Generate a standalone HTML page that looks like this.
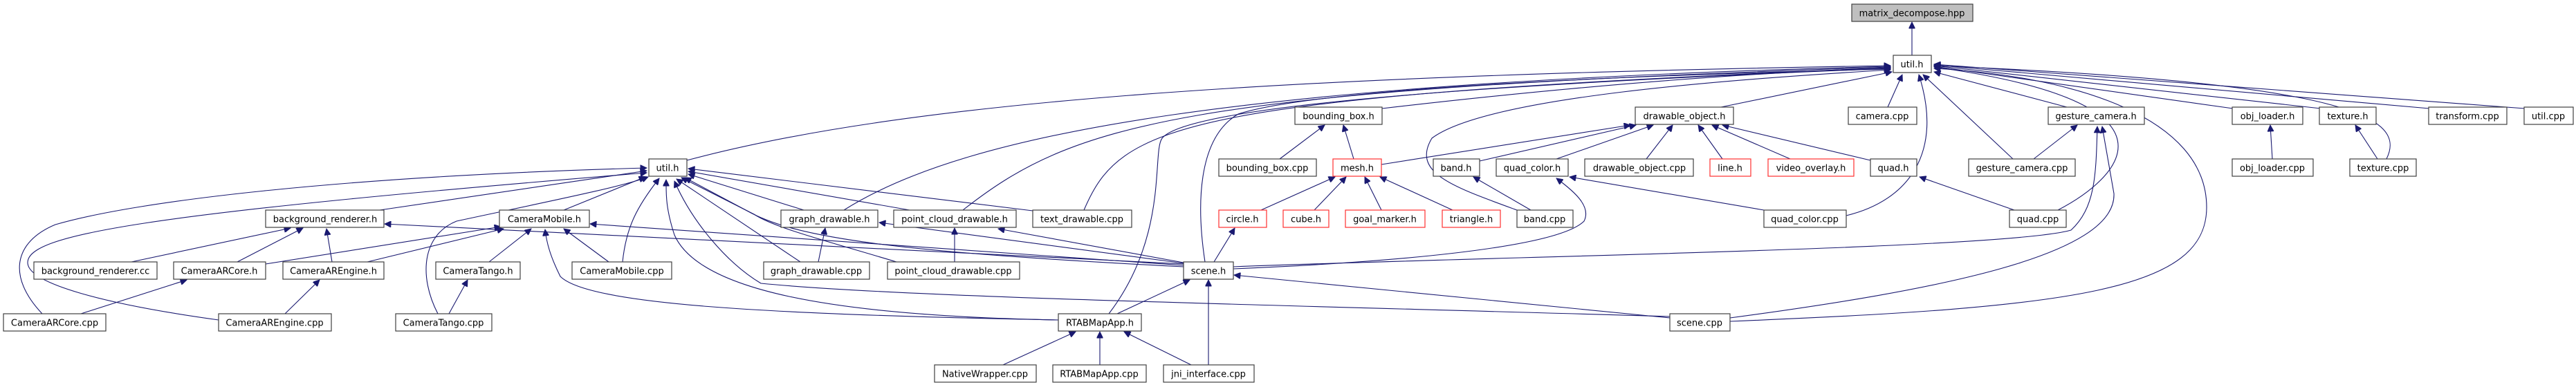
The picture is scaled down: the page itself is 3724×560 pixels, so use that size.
<!DOCTYPE html>
<html><head><meta charset="utf-8"><style>
html,body{margin:0;padding:0;background:#fff;width:3724px;height:560px;overflow:hidden}
svg text{font-family:"DejaVu Sans","Liberation Sans",sans-serif;font-size:13px;fill:#000;text-anchor:middle}
.e{fill:none;stroke:#191970;stroke-width:1.1}
.n{fill:#fff;stroke:#404040;stroke-width:1.2}
.r{fill:#fff;stroke:#ff3030;stroke-width:1.2}
</style></head><body>
<svg width="3724" height="560" viewBox="0 0 3724 560" xmlns="http://www.w3.org/2000/svg">
<defs><marker id="a" viewBox="0 0 10 10" refX="10" refY="5" markerWidth="11" markerHeight="9" markerUnits="userSpaceOnUse" orient="auto"><path d="M0,0 L10,5 L0,10 z" fill="#191970" stroke="#191970"/></marker></defs>
<g class="e" marker-end="url(#a)">
<path d="M2764,80 L2764,32"/>
<path d="M993,232 C1300,150 1800,110 2733,95"/>
<path d="M1998,157 Q2400,110 2733,98"/>
<path d="M2488,155 L2735,104"/>
<path d="M2729,155 L2750,108"/>
<path d="M2988,155 L2796,104"/>
<path d="M2910,230 L2780,108"/>
<path d="M2669,312 C2760,290 2810,220 2774,108"/>
<path d="M2975,304 C3060,260 3180,150 2796,97"/>
<path d="M3228,157 L2796,96"/>
<path d="M3355,157 L2796,95"/>
<path d="M3512,157 L2796,94"/>
<path d="M3650,157 L2796,93"/>
<path d="M3450,230 C3480,170 3400,120 2796,95"/>
<path d="M2501,465 C3000,445 3190,420 3190,300 C3190,170 3000,110 2796,99"/>
<path d="M2501,460 C2800,420 3060,370 3056,280 L3039,183"/>
<path d="M1220,304 C1400,190 1800,120 2733,96"/>
<path d="M1392,304 C1550,180 1700,130 2733,97"/>
<path d="M1567,304 C1620,180 1700,140 2733,98"/>
<path d="M1603,454 C1690,340 1665,220 1680,200 C1720,150 2200,120 2733,99"/>
<path d="M1742,379 C1730,300 1730,200 1790,165 C1900,130 2300,110 2733,100"/>
<path d="M2193,304 C2100,270 2040,250 2070,200 C2150,140 2500,115 2733,101"/>
<path d="M815,304 L933,256"/>
<path d="M900,379 C905,330 920,300 953,258"/>
<path d="M1530,463 C1200,457 1010,420 975,340 C962,300 963,280 963,260"/>
<path d="M1157,379 L978,259"/>
<path d="M2414,458 C1800,440 1300,430 1100,410 C1050,380 1000,320 975,262"/>
<path d="M1296,379 C1200,350 1120,330 1090,310 L985,257"/>
<path d="M1162,304 L995,252"/>
<path d="M1315,304 L995,248"/>
<path d="M1493,305 L995,244"/>
<path d="M1711,386 C1300,365 1150,345 1080,305 L990,257"/>
<path d="M549,304 L935,247"/>
<path d="M61,454 C10,400 20,350 80,325 C200,290 500,255 935,243"/>
<path d="M316,463 C150,440 40,410 40,380 C40,340 200,310 935,250"/>
<path d="M633,454 C605,400 610,340 660,320 C800,290 900,270 937,256"/>
<path d="M1711,382 L556,324"/>
<path d="M1711,384 L853,324"/>
<path d="M1530,463 C1100,455 850,440 810,400 C795,370 790,350 788,332"/>
<path d="M384,382 L724,328"/>
<path d="M531,379 L728,331"/>
<path d="M707,379 L768,331"/>
<path d="M880,379 L815,331"/>
<path d="M190,379 L420,330"/>
<path d="M343,379 L438,330"/>
<path d="M480,379 L472,331"/>
<path d="M117,454 L270,405"/>
<path d="M412,454 L462,405"/>
<path d="M649,454 L676,405"/>
<path d="M1183,379 L1193,330"/>
<path d="M1711,381 L1271,322"/>
<path d="M1380,379 L1380,330"/>
<path d="M1711,380 L1443,331"/>
<path d="M1755,379 L1785,330"/>
<path d="M1615,454 L1720,405"/>
<path d="M1747,528 L1747,405"/>
<path d="M2414,460 L1784,398"/>
<path d="M1450,528 L1555,480"/>
<path d="M1590,528 L1590,480"/>
<path d="M1722,528 L1625,480"/>
<path d="M1823,304 L1930,256"/>
<path d="M1900,304 L1946,256"/>
<path d="M1997,304 L1973,256"/>
<path d="M2100,304 L1995,256"/>
<path d="M1957,230 L1942,181"/>
<path d="M1850,230 L1915,181"/>
<path d="M1997,238 L2357,181"/>
<path d="M2139,233 L2365,181"/>
<path d="M2250,230 L2390,181"/>
<path d="M2380,230 L2418,181"/>
<path d="M2490,230 L2455,181"/>
<path d="M2588,230 L2475,181"/>
<path d="M2704,232 L2490,181"/>
<path d="M2213,304 L2130,256"/>
<path d="M2550,304 L2269,256"/>
<path d="M1783,389 C2000,380 2250,360 2290,320 C2300,300 2280,280 2250,258"/>
<path d="M2912,304 L2775,256"/>
<path d="M2940,230 L3003,181"/>
<path d="M3285,230 L3282,181"/>
<path d="M3437,230 L3405,181"/>
<path d="M1783,386 C2200,370 2900,360 2994,333 C3030,300 3030,250 3032,183"/>
</g>
<g>
<rect x="2677" y="6" width="175" height="25" fill="#bfbfbf" stroke="#404040" stroke-width="1.2"/><text x="2764" y="23.5">matrix_decompose.hpp</text>
<rect class="n" x="2737" y="80" width="55" height="25"/><text x="2764" y="97.5">util.h</text>
<rect class="n" x="1872" y="155" width="126" height="25"/><text x="1935" y="172.5">bounding_box.h</text>
<rect class="n" x="2364" y="155" width="142" height="25"/><text x="2435" y="172.5">drawable_object.h</text>
<rect class="n" x="2672" y="155" width="99" height="25"/><text x="2721" y="172.5">camera.cpp</text>
<rect class="n" x="2961" y="155" width="139" height="25"/><text x="3030" y="172.5">gesture_camera.h</text>
<rect class="n" x="3227" y="155" width="102" height="25"/><text x="3278" y="172.5">obj_loader.h</text>
<rect class="n" x="3353" y="155" width="82" height="25"/><text x="3394" y="172.5">texture.h</text>
<rect class="n" x="3511" y="155" width="113" height="25"/><text x="3567" y="172.5">transform.cpp</text>
<rect class="n" x="3649" y="155" width="71" height="25"/><text x="3684" y="172.5">util.cpp</text>
<rect class="n" x="938" y="230" width="55" height="25"/><text x="965" y="247.5">util.h</text>
<rect class="n" x="1762" y="230" width="141" height="25"/><text x="1832" y="247.5">bounding_box.cpp</text>
<rect class="r" x="1927" y="230" width="70" height="25"/><text x="1962" y="247.5">mesh.h</text>
<rect class="n" x="2072" y="230" width="67" height="25"/><text x="2105" y="247.5">band.h</text>
<rect class="n" x="2163" y="230" width="104" height="25"/><text x="2215" y="247.5">quad_color.h</text>
<rect class="n" x="2291" y="230" width="157" height="25"/><text x="2370" y="247.5">drawable_object.cpp</text>
<rect class="r" x="2472" y="230" width="59" height="25"/><text x="2501" y="247.5">line.h</text>
<rect class="r" x="2556" y="230" width="124" height="25"/><text x="2618" y="247.5">video_overlay.h</text>
<rect class="n" x="2704" y="230" width="67" height="25"/><text x="2737" y="247.5">quad.h</text>
<rect class="n" x="2846" y="230" width="154" height="25"/><text x="2923" y="247.5">gesture_camera.cpp</text>
<rect class="n" x="3227" y="230" width="117" height="25"/><text x="3285" y="247.5">obj_loader.cpp</text>
<rect class="n" x="3397" y="230" width="96" height="25"/><text x="3445" y="247.5">texture.cpp</text>
<rect class="n" x="384" y="304" width="171" height="25"/><text x="470" y="321.5">background_renderer.h</text>
<rect class="n" x="722" y="304" width="130" height="25"/><text x="787" y="321.5">CameraMobile.h</text>
<rect class="n" x="1129" y="304" width="140" height="25"/><text x="1199" y="321.5">graph_drawable.h</text>
<rect class="n" x="1292" y="304" width="177" height="25"/><text x="1380" y="321.5">point_cloud_drawable.h</text>
<rect class="n" x="1493" y="304" width="143" height="25"/><text x="1564" y="321.5">text_drawable.cpp</text>
<rect class="r" x="1762" y="304" width="69" height="25"/><text x="1796" y="321.5">circle.h</text>
<rect class="r" x="1855" y="304" width="66" height="25"/><text x="1888" y="321.5">cube.h</text>
<rect class="r" x="1945" y="304" width="115" height="25"/><text x="2002" y="321.5">goal_marker.h</text>
<rect class="r" x="2085" y="304" width="84" height="25"/><text x="2127" y="321.5">triangle.h</text>
<rect class="n" x="2193" y="304" width="81" height="25"/><text x="2233" y="321.5">band.cpp</text>
<rect class="n" x="2550" y="304" width="119" height="25"/><text x="2609" y="321.5">quad_color.cpp</text>
<rect class="n" x="2905" y="304" width="82" height="25"/><text x="2946" y="321.5">quad.cpp</text>
<rect class="n" x="49" y="379" width="178" height="25"/><text x="138" y="396.5">background_renderer.cc</text>
<rect class="n" x="251" y="379" width="133" height="25"/><text x="317" y="396.5">CameraARCore.h</text>
<rect class="n" x="409" y="379" width="146" height="25"/><text x="482" y="396.5">CameraAREngine.h</text>
<rect class="n" x="630" y="379" width="122" height="25"/><text x="691" y="396.5">CameraTango.h</text>
<rect class="n" x="827" y="379" width="144" height="25"/><text x="899" y="396.5">CameraMobile.cpp</text>
<rect class="n" x="1104" y="379" width="153" height="25"/><text x="1180" y="396.5">graph_drawable.cpp</text>
<rect class="n" x="1283" y="379" width="191" height="25"/><text x="1378" y="396.5">point_cloud_drawable.cpp</text>
<rect class="n" x="1711" y="379" width="72" height="25"/><text x="1747" y="396.5">scene.h</text>
<rect class="n" x="5" y="454" width="148" height="25"/><text x="79" y="471.5">CameraARCore.cpp</text>
<rect class="n" x="316" y="454" width="163" height="25"/><text x="397" y="471.5">CameraAREngine.cpp</text>
<rect class="n" x="572" y="454" width="139" height="25"/><text x="641" y="471.5">CameraTango.cpp</text>
<rect class="n" x="1530" y="454" width="120" height="25"/><text x="1590" y="471.5">RTABMapApp.h</text>
<rect class="n" x="2414" y="454" width="87" height="25"/><text x="2457" y="471.5">scene.cpp</text>
<rect class="n" x="1351" y="528" width="147" height="25"/><text x="1424" y="545.5">NativeWrapper.cpp</text>
<rect class="n" x="1522" y="528" width="135" height="25"/><text x="1589" y="545.5">RTABMapApp.cpp</text>
<rect class="n" x="1682" y="528" width="131" height="25"/><text x="1747" y="545.5">jni_interface.cpp</text>
</g>
</svg>
</body></html>
